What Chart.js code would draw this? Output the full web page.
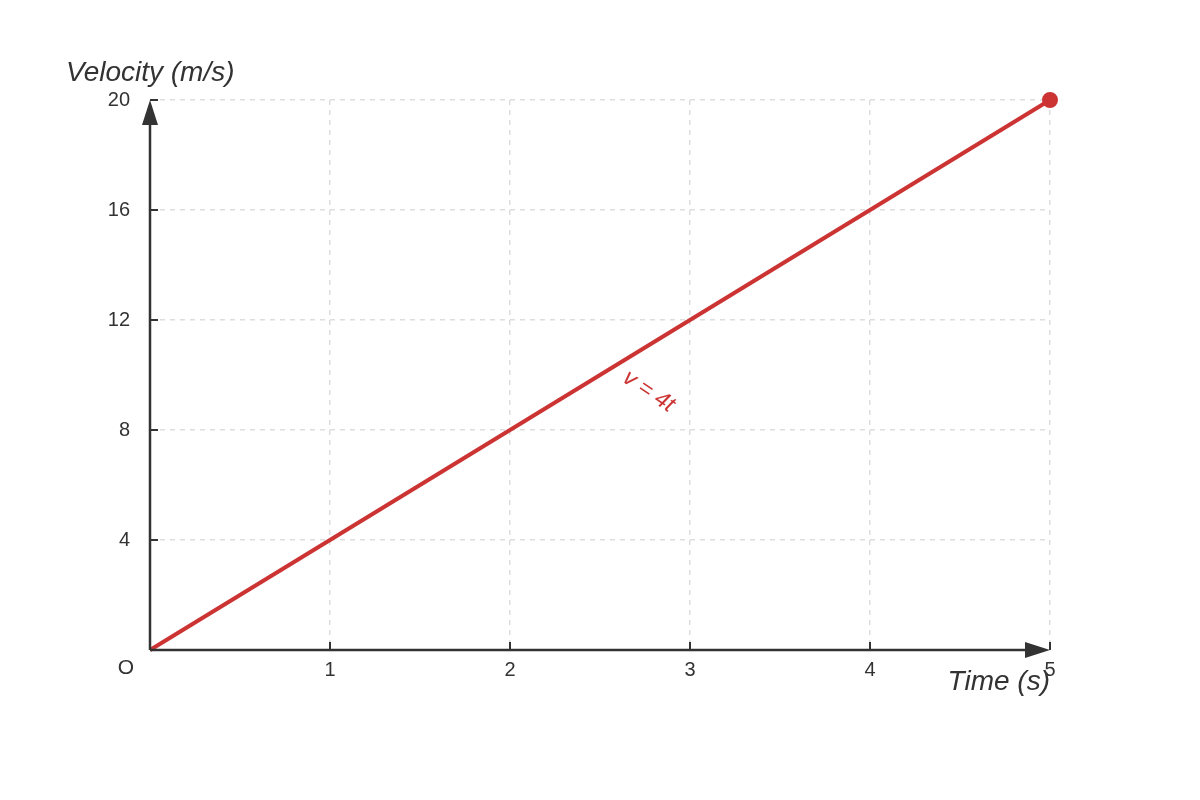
<!DOCTYPE html>
<html>
<head>
<meta charset="utf-8">
<script src="https://cdn.jsdelivr.net/npm/chart.js@4"></script>
<style>
  html, body { margin: 0; padding: 0; background: #fff; }
  #wrap { width: 1200px; height: 800px; }
</style>
</head>
<body>
<div id="wrap"><canvas id="chart" width="1200" height="800"></canvas></div>
<script>
'use strict';

// ── Data ─────────────────────────────────────────────
const timeValues     = [0, 5];
const velocityValues = [0, 20];
const pointSizes     = [0, 6];
const xTicks         = [0, 1, 2, 3, 4, 5];
const yTicks         = [0, 4, 8, 12, 16, 20];
const lineLabel      = 'v = 4t';
const labelAt        = { t: 2.77, v: 9.4 };

const INK = '#333333';
const RED = '#cc3333';
const FONT = '"Liberation Sans", Arial, sans-serif';

// ── Axes, arrows, titles ────────────────────────────
const axesPlugin = {
    id: 'physAxes',
    afterDraw(chart) {
        const { ctx, scales: { x, y } } = chart;
        const x0 = x.getPixelForValue(0), y0 = y.getPixelForValue(0);
        const xEnd = x.getPixelForValue(5), yEnd = y.getPixelForValue(20);
        ctx.save();
        ctx.strokeStyle = INK;
        ctx.fillStyle = INK;
        ctx.lineWidth = 2.5;

        ctx.beginPath();
        ctx.moveTo(x0, y0); ctx.lineTo(xEnd - 10, y0);
        ctx.moveTo(x0, y0); ctx.lineTo(x0, yEnd + 10);
        ctx.stroke();

        // arrow heads
        ctx.beginPath();
        ctx.moveTo(xEnd, y0); ctx.lineTo(xEnd - 25, y0 - 8); ctx.lineTo(xEnd - 25, y0 + 8);
        ctx.closePath(); ctx.fill();
        ctx.beginPath();
        ctx.moveTo(x0, yEnd); ctx.lineTo(x0 - 8, yEnd + 25); ctx.lineTo(x0 + 8, yEnd + 25);
        ctx.closePath(); ctx.fill();

        // small inward ticks
        ctx.lineWidth = 2;
        ctx.beginPath();
        xTicks.filter(v => v > 0).forEach(v => {
            const px = x.getPixelForValue(v);
            ctx.moveTo(px, y0); ctx.lineTo(px, y0 - 8);
        });
        yTicks.filter(v => v > 0).forEach(v => {
            const py = y.getPixelForValue(v);
            ctx.moveTo(x0, py); ctx.lineTo(x0 + 8, py);
        });
        ctx.stroke();

        // origin and axis titles
        ctx.font = '21px ' + FONT;
        ctx.textAlign = 'center';
        ctx.textBaseline = 'middle';
        ctx.fillText('O', x0 - 24, y0 + 18);

        ctx.font = 'italic 28px ' + FONT;
        ctx.textAlign = 'left';
        ctx.textBaseline = 'alphabetic';
        ctx.fillText('Velocity (m/s)', 66, 81);
        ctx.textAlign = 'right';
        ctx.fillText('Time (s)', xEnd, 690);

        // line label
        const ang = Math.atan2(y0 - yEnd, xEnd - x0) + 0.04;
        ctx.translate(x.getPixelForValue(labelAt.t), y.getPixelForValue(labelAt.v));
        ctx.rotate(ang);
        ctx.fillStyle = RED;
        ctx.font = 'italic 23px ' + FONT;
        ctx.textAlign = 'center';
        ctx.textBaseline = 'middle';
        ctx.fillText(lineLabel, 0, 0);
        ctx.restore();
    }
};

const gridColor = c => (c.tick && c.tick.value === 0) ? 'rgba(0,0,0,0)' : '#dddddd';

new Chart(document.getElementById('chart'), {
    type: 'scatter',
    data: {
        datasets: [{
            data: timeValues.map((t, i) => ({ x: t, y: velocityValues[i] })),
            showLine: true,
            clip: false,
            borderColor: RED,
            backgroundColor: RED,
            borderWidth: 4,
            pointRadius: pointSizes,
            pointHoverRadius: pointSizes,
        }],
    },
    options: {
        responsive: false,
        animation: false,
        devicePixelRatio: 1,
        layout: { padding: { top: 100, right: 150, left: 0, bottom: 0 } },
        plugins: { legend: { display: false }, tooltip: { enabled: false } },
        scales: {
            x: {
                type: 'linear', min: 0, max: 5,
                afterBuildTicks: s => { s.ticks = xTicks.map(v => ({ value: v })); },
                afterFit: s => { s.height = 150; },
                grid: { color: gridColor, lineWidth: 1.5, drawTicks: false },
                border: { display: false, dash: [5, 5] },
                ticks: {
                    padding: 8, color: INK, maxRotation: 0,
                    font: { size: 20, family: FONT },
                    callback: v => v === 0 ? '' : v,
                },
            },
            y: {
                type: 'linear', min: 0, max: 20,
                afterBuildTicks: s => { s.ticks = yTicks.map(v => ({ value: v })); },
                afterFit: s => { s.width = 150; },
                grid: { color: gridColor, lineWidth: 1.5, drawTicks: false },
                border: { display: false, dash: [5, 5] },
                ticks: {
                    padding: 20, color: INK,
                    font: { size: 20, family: FONT },
                    callback: v => v === 0 ? '' : v,
                },
            },
        },
    },
    plugins: [axesPlugin],
});
</script>
</body>
</html>
